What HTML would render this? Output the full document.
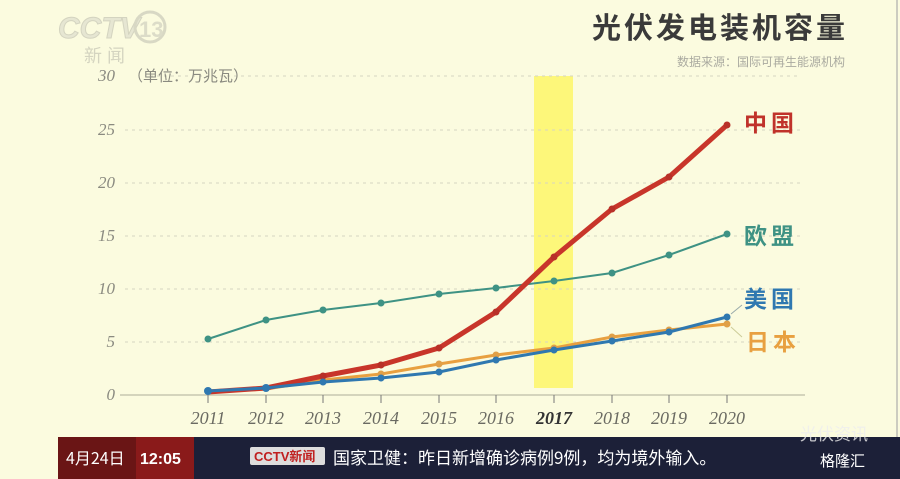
<!DOCTYPE html>
<html><head><meta charset="utf-8"><style>
html,body{margin:0;padding:0;background:#fbfbdf;}
svg{display:block;}
</style></head><body>
<svg width="900" height="479" viewBox="0 0 900 479" xmlns="http://www.w3.org/2000/svg" font-family="Liberation Sans, Noto Sans CJK SC, sans-serif">
<rect width="900" height="479" fill="#fbfbdf"/>
<line x1="897" y1="0" x2="897" y2="437" stroke="#ccccc0" stroke-width="2"/>
<!-- CCTV logo faint -->
<text x="58" y="38" font-size="30" font-weight="bold" font-style="italic" fill="#e6e6d2" stroke="#d4d4c0" stroke-width="1">CCTV</text>
<circle cx="150" cy="27" r="15" fill="none" stroke="#d8d8c4" stroke-width="3"/>
<text x="139" y="37" font-size="22" font-weight="bold" fill="#dcdcc8">13</text>
<text x="84" y="62" font-size="18" fill="#d4d4c0">新 闻</text>
<!-- title -->
<text x="848" y="38" font-size="29" font-weight="bold" fill="#3a3a3a" text-anchor="end" letter-spacing="3" font-family="Noto Sans CJK SC, sans-serif">光伏发电装机容量</text>
<text x="845" y="66" font-size="12" fill="#aaaaa0" text-anchor="end" font-family="Noto Sans CJK SC, sans-serif">数据来源：国际可再生能源机构</text>
<!-- yellow band -->
<rect x="534" y="76" width="39" height="312" fill="#fdf77a"/>
<!-- grid -->
<g stroke="#d6d6c0" stroke-width="1" stroke-dasharray="3,4">
<line x1="150" y1="76" x2="800" y2="76"/>
<line x1="125" y1="130" x2="800" y2="130"/>
<line x1="125" y1="183" x2="800" y2="183"/>
<line x1="125" y1="236" x2="800" y2="236"/>
<line x1="125" y1="289" x2="800" y2="289"/>
<line x1="125" y1="342" x2="800" y2="342"/>
</g>
<line x1="120" y1="395" x2="805" y2="395" stroke="#c8c8b0" stroke-width="1.5"/>
<g font-family="Liberation Serif, serif" font-style="italic" font-size="17" fill="#8a8a80" text-anchor="end">
<text x="115" y="81">30</text><text x="115" y="135">25</text><text x="115" y="188">20</text>
<text x="115" y="241">15</text><text x="115" y="294">10</text><text x="115" y="347">5</text><text x="115" y="400">0</text>
</g>
<text x="128" y="81" font-size="15" fill="#8a8a80" font-family="Noto Sans CJK SC, sans-serif">（单位：万兆瓦）</text>
<g stroke="#777" stroke-width="1">
<line x1="208" y1="395" x2="208" y2="403"/><line x1="266" y1="395" x2="266" y2="403"/><line x1="323" y1="395" x2="323" y2="403"/>
<line x1="381" y1="395" x2="381" y2="403"/><line x1="439" y1="395" x2="439" y2="403"/><line x1="496" y1="395" x2="496" y2="403"/>
<line x1="554" y1="395" x2="554" y2="403"/><line x1="612" y1="395" x2="612" y2="403"/><line x1="669" y1="395" x2="669" y2="403"/><line x1="727" y1="395" x2="727" y2="403"/>
</g>
<g font-family="Liberation Serif, serif" font-style="italic" font-size="18" fill="#6a6a62" text-anchor="middle">
<text x="208" y="424">2011</text><text x="266" y="424">2012</text><text x="323" y="424">2013</text><text x="381" y="424">2014</text>
<text x="439" y="424">2015</text><text x="496" y="424">2016</text><text x="554" y="424" font-weight="bold" fill="#333">2017</text>
<text x="612" y="424">2018</text><text x="669" y="424">2019</text><text x="727" y="424">2020</text>
</g>
<!-- series -->
<polyline fill="none" stroke="#3e9284" stroke-width="2" points="208,339 266,320 323,310 381,303 439,294 496,288 554,281 612,273 669,255 727,234"/>
<g fill="#3e9284"><circle cx="208" cy="339" r="3.5"/><circle cx="266" cy="320" r="3.5"/><circle cx="323" cy="310" r="3.5"/><circle cx="381" cy="303" r="3.5"/><circle cx="439" cy="294" r="3.5"/><circle cx="496" cy="288" r="3.5"/><circle cx="554" cy="281" r="3.5"/><circle cx="612" cy="273" r="3.5"/><circle cx="669" cy="255" r="3.5"/><circle cx="727" cy="234" r="3.5"/></g>
<polyline fill="none" stroke="#e8a040" stroke-width="3" points="208,392 266,389 323,380 381,374 439,364 496,355 554,348 612,337 669,330 727,324"/>
<g fill="#e0a048"><circle cx="323" cy="380" r="3.5"/><circle cx="381" cy="374" r="3.5"/><circle cx="439" cy="364" r="3.5"/><circle cx="496" cy="355" r="3.5"/><circle cx="554" cy="348" r="3.5"/><circle cx="612" cy="337" r="3.5"/><circle cx="669" cy="330" r="3.5"/><circle cx="727" cy="324" r="3.5"/></g>
<polyline fill="none" stroke="#c8352a" stroke-width="5" stroke-linejoin="round" points="208,392 266,388 323,376 381,365 439,348 496,312 554,257 612,209 669,177 727,125"/>
<g fill="#b83028"><circle cx="323" cy="376" r="3.5"/><circle cx="381" cy="365" r="3.5"/><circle cx="439" cy="348" r="3.5"/><circle cx="496" cy="312" r="3.5"/><circle cx="554" cy="257" r="3.5"/><circle cx="612" cy="209" r="3.5"/><circle cx="669" cy="177" r="3.5"/><circle cx="727" cy="125" r="3.5"/></g>
<polyline fill="none" stroke="#2f78b0" stroke-width="3" points="208,391 266,388 323,382 381,378 439,372 496,360 554,350 612,341 669,332 727,317"/>
<g fill="#2f78b0"><circle cx="208" cy="391" r="4"/><circle cx="266" cy="388" r="4"/><circle cx="323" cy="382" r="3.5"/><circle cx="381" cy="378" r="3.5"/><circle cx="439" cy="372" r="3.5"/><circle cx="496" cy="360" r="3.5"/><circle cx="554" cy="350" r="3.5"/><circle cx="612" cy="341" r="3.5"/><circle cx="669" cy="332" r="3.5"/><circle cx="727" cy="317" r="3.5"/></g>
<line x1="731" y1="314" x2="742" y2="305" stroke="#9aa" stroke-width="1"/>
<line x1="731" y1="327" x2="742" y2="337" stroke="#cc9" stroke-width="1"/>
<g font-family="Noto Sans CJK SC, sans-serif" font-size="23" font-weight="bold" letter-spacing="4">
<text x="744" y="131" fill="#c0322a">中国</text>
<text x="744" y="244" fill="#3e9284">欧盟</text>
<text x="744" y="307" fill="#2f78b0">美国</text>
<text x="746" y="350" fill="#e8a040">日本</text>
</g>
<!-- bottom ticker -->
<rect x="58" y="437" width="842" height="42" fill="#1c2038"/>
<rect x="58" y="437" width="136" height="42" fill="#8a1a1a"/>
<rect x="58" y="437" width="78" height="42" fill="#6a1515"/>
<text x="66" y="464" font-size="16" fill="#fff" font-family="Noto Sans CJK SC, sans-serif">4月24日</text>
<text x="140" y="464" font-size="16" fill="#fff" font-weight="bold">12:05</text>
<rect x="250" y="447" width="75" height="18" fill="#ddd" rx="2"/>
<text x="254" y="461" font-size="13" font-weight="bold" fill="#c02020">CCTV新闻</text>
<text x="333" y="464" font-size="17" fill="#fff" font-family="Noto Sans CJK SC, sans-serif">国家卫健：昨日新增确诊病例9例，均为境外输入。</text>
<text x="800" y="440" font-size="17" fill="#eee" opacity="0.8" font-family="Noto Sans CJK SC, sans-serif">光伏资讯</text>
<text x="820" y="466" font-size="15" fill="#fff" font-family="Noto Sans CJK SC, sans-serif">格隆汇</text>
</svg>
</body></html>
